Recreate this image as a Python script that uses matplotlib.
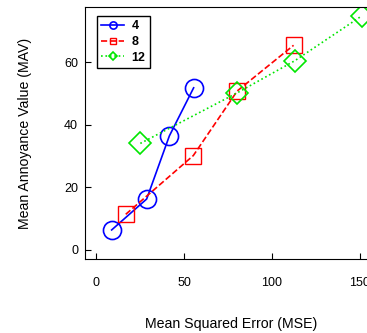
import matplotlib
matplotlib.use('Agg')
import matplotlib.pyplot as plt

plt.rcParams['font.family'] = ['Liberation Sans', 'DejaVu Sans']

# MSE / MAV values per group
mse_4 = [8.9, 28.8, 41.7, 55.5]
mav_4 = [6.4, 16.3, 36.5, 51.9]
mse_8 = [16.9, 55.3, 80.3, 112.3]
mav_8 = [11.4, 30.2, 50.9, 65.5]
mse_12 = [25.2, 80.3, 113.1, 151.0]
mav_12 = [34.1, 50.3, 60.6, 74.9]
labels = ['4', '8', '12']

fig = plt.figure(figsize=(3.67, 3.33), dpi=100)
ax = fig.add_axes([0.2316, 0.2213, 0.797, 0.758])

ax.plot(mse_4, mav_4, '-', color=(0, 0, 1), marker='o', ms=13, mfc='none', mew=1.2, lw=1.2, label=labels[0])
ax.plot(mse_8, mav_8, '--', color=(1, 0, 0), marker='s', ms=12, mfc='none', mew=1.0, lw=1.2, label=labels[1])
ax.plot(mse_12, mav_12, ':', color=(0, 0.9, 0), marker='D', ms=11, mfc='none', mew=1.2, lw=1.2, label=labels[2])

ax.set_xlim(-6.25, 160)
ax.set_ylim(-3, 77.8)
ax.set_xticks([0, 50, 100, 150])
ax.set_yticks([0, 20, 40, 60])
ax.tick_params(direction='in', length=4, labelsize=9)
ax.tick_params(axis='x', pad=13)
ax.tick_params(axis='y', pad=5)
ax.set_xlabel('Mean Squared Error (MSE)', fontsize=10.2, labelpad=20)
ax.set_ylabel('Mean Annoyance Value (MAV)', fontsize=10.2, labelpad=23)

leg = ax.legend(loc='upper left', prop={'weight': 'bold', 'size': 9}, markerscale=0.4,
                fancybox=False, edgecolor='black', framealpha=1, handlelength=1.8,
                handletextpad=0.6, borderpad=0.35, labelspacing=0.3,
                borderaxespad=0, bbox_to_anchor=(0.041, 0.964))
leg.get_frame().set_linewidth(1.0)

fig.savefig('out.png', dpi=100)
